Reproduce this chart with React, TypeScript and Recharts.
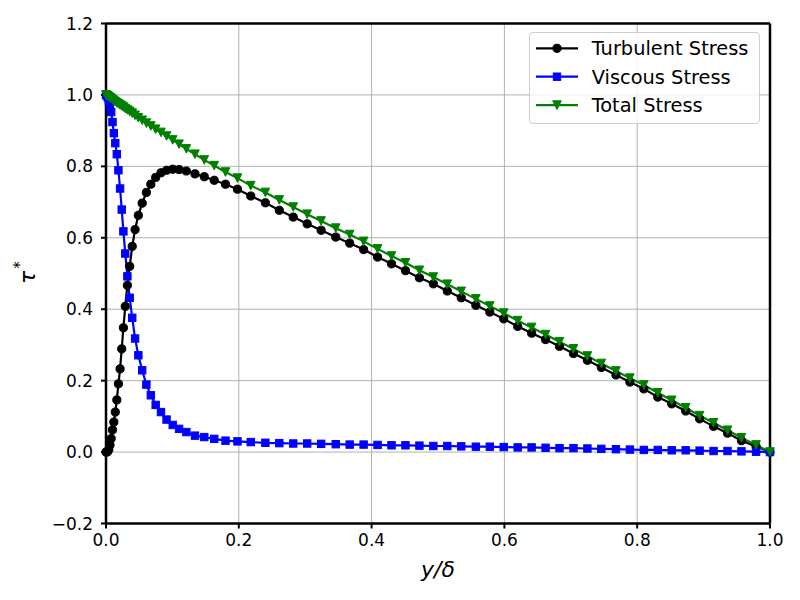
import React from 'react';
import {
  LineChart,
  Line,
  XAxis,
  YAxis,
  CartesianGrid,
  ReferenceLine,
  Legend,
  Label,
} from 'recharts';

// wall-normal positions y/delta (stretched grid, dense near the wall)
const yOverDelta = [
  0.0, 0.0013, 0.0027, 0.0042, 0.006, 0.0078, 0.0098, 0.0118, 0.014, 0.0163,
  0.0187, 0.0212, 0.0237, 0.0262, 0.029, 0.0322, 0.0357, 0.0395, 0.0438, 0.0487,
  0.0545, 0.0608, 0.0675, 0.0748, 0.0828, 0.0912, 0.1005, 0.11, 0.121, 0.134,
  0.148, 0.163, 0.18, 0.198, 0.218,
  0.24, 0.261, 0.282, 0.303, 0.324, 0.346, 0.367, 0.388, 0.409, 0.43,
  0.451, 0.472, 0.493, 0.514, 0.535, 0.557, 0.578, 0.599, 0.62, 0.641,
  0.662, 0.683, 0.704, 0.725, 0.746, 0.768, 0.789, 0.81, 0.831, 0.852,
  0.873, 0.894, 0.915, 0.936, 0.957, 0.979, 1.0,
];

const turbulentStress = [
  0.0, 0.0, 0.002, 0.007, 0.02, 0.038, 0.062, 0.084, 0.112, 0.146,
  0.191, 0.233, 0.289, 0.348, 0.408, 0.467, 0.52, 0.576, 0.623, 0.663,
  0.697, 0.727, 0.75, 0.769, 0.782, 0.789, 0.792, 0.791, 0.787, 0.779,
  0.771, 0.761, 0.75, 0.736, 0.717,
  0.698, 0.677, 0.658, 0.639, 0.621, 0.602, 0.585, 0.567, 0.546, 0.527,
  0.508, 0.488, 0.471, 0.451, 0.432, 0.411, 0.392, 0.373, 0.352, 0.333,
  0.315, 0.296, 0.276, 0.257, 0.237, 0.216, 0.196, 0.177, 0.154, 0.135,
  0.115, 0.093, 0.072, 0.053, 0.032, 0.016, 0.0,
];

const viscousStress = [
  1.0, 0.998, 0.993, 0.984, 0.971, 0.952, 0.924, 0.893, 0.865, 0.834,
  0.789, 0.738, 0.679, 0.618, 0.556, 0.492, 0.432, 0.376, 0.318, 0.271,
  0.229, 0.189, 0.159, 0.132, 0.112, 0.091, 0.076, 0.065, 0.056, 0.046,
  0.042, 0.037, 0.032, 0.03, 0.028,
  0.026, 0.025, 0.024, 0.024, 0.023, 0.022, 0.021, 0.021, 0.02, 0.019,
  0.019, 0.018, 0.017, 0.017, 0.016, 0.015, 0.015, 0.014, 0.013, 0.013,
  0.012, 0.011, 0.011, 0.01, 0.009, 0.008, 0.007, 0.006, 0.006, 0.005,
  0.005, 0.004, 0.003, 0.003, 0.002, 0.001, 0.0,
];

const totalStress = [
  1.0, 0.999, 0.997, 0.995, 0.992, 0.99, 0.987, 0.984, 0.981, 0.978,
  0.975, 0.972, 0.969, 0.966, 0.962, 0.958, 0.954, 0.949, 0.943, 0.936,
  0.929, 0.921, 0.913, 0.904, 0.895, 0.885, 0.874, 0.862, 0.849, 0.834,
  0.818, 0.802, 0.784, 0.767, 0.746,
  0.727, 0.706, 0.686, 0.666, 0.647, 0.627, 0.609, 0.59, 0.569, 0.549,
  0.53, 0.509, 0.49, 0.47, 0.45, 0.429, 0.409, 0.389, 0.368, 0.349,
  0.329, 0.309, 0.289, 0.269, 0.248, 0.227, 0.207, 0.188, 0.166, 0.145,
  0.124, 0.102, 0.082, 0.061, 0.04, 0.02, 0.0,
];

const xTicks = [0, 0.2, 0.4, 0.6, 0.8, 1.0];
const yTicks = [-0.2, 0, 0.2, 0.4, 0.6, 0.8, 1.0, 1.2];

const SERIES = [
  { key: 'turbulent', name: 'Turbulent Stress', color: '#000000', marker: 'circle' },
  { key: 'viscous', name: 'Viscous Stress', color: '#0000ff', marker: 'square' },
  { key: 'total', name: 'Total Stress', color: '#008000', marker: 'triangle' },
];

const FONT = '"DejaVu Sans", sans-serif';

function Marker({ cx, cy, type, color }: { cx?: number; cy?: number; type: string; color: string }) {
  if (cx == null || cy == null) return null;
  if (type === 'circle') {
    return <circle cx={cx} cy={cy} r={4.1} fill={color} stroke={color} strokeWidth={1} />;
  }
  if (type === 'square') {
    return <rect x={cx - 3.7} y={cy - 3.7} width={7.4} height={7.4} fill={color} stroke={color} strokeWidth={1} />;
  }
  return (
    <polygon
      points={`${cx - 4.3},${cy - 4.3} ${cx + 4.3},${cy - 4.3} ${cx},${cy + 4.3}`}
      fill={color}
      stroke={color}
      strokeWidth={1}
    />
  );
}

const fmt = (v: number) => (v < 0 ? '\u2212' + Math.abs(v).toFixed(1) : v.toFixed(1));

const XTick = (props: any) => {
  const { x, y, payload } = props;
  return (
    <text x={x} y={y + 15.5} textAnchor="middle" fontSize={17} fontFamily={FONT} fill="#000">
      {fmt(payload.value)}
    </text>
  );
};

const YTick = (props: any) => {
  const { x, y, payload } = props;
  return (
    <text x={x - 6} y={y + 6} textAnchor="end" fontSize={17} fontFamily={FONT} fill="#000">
      {fmt(payload.value)}
    </text>
  );
};

const renderLegend = () => (
  <div
    style={{
      width: 231,
      height: 92,
      boxSizing: 'border-box',
      border: '1px solid #cccccc',
      borderRadius: 4,
      background: 'rgba(255,255,255,0.8)',
    }}
  >
    <svg width={229} height={90} style={{ display: 'block' }}>
      {SERIES.map((s, i) => {
        const cy = 15.3 + i * 28.4;
        return (
          <g key={s.key}>
            <line x1={6} x2={48} y1={cy} y2={cy} stroke={s.color} strokeWidth={2.2} />
            <Marker cx={27} cy={cy} type={s.marker} color={s.color} />
            <text x={61.7} y={cy + 7} fontSize={19.4} fontFamily={FONT} fill="#000">
              {s.name}
            </text>
          </g>
        );
      })}
    </svg>
  </div>
);

export default function App() {
  const data = yOverDelta.map((x, i) => ({
    x,
    turbulent: turbulentStress[i],
    viscous: viscousStress[i],
    total: totalStress[i],
  }));

  return (
    <div style={{ position: 'absolute', left: 0, top: 0, width: 800, height: 600, background: '#ffffff' }}>
      <LineChart width={800} height={600} data={data} margin={{ top: 23.5, right: 30, bottom: 46.5, left: 0 }}>
        <CartesianGrid stroke="#b0b0b0" strokeWidth={1} />
        <XAxis
          type="number"
          dataKey="x"
          domain={[0, 1]}
          ticks={xTicks}
          interval={0}
          height={30}
          tickSize={5}
          tickLine={{ stroke: '#000', strokeWidth: 2 }}
          axisLine={{ stroke: '#000', strokeWidth: 2.5 }}
          tick={XTick}
        >
          <Label
            content={(p: any) => {
              const vb = p.viewBox || {};
              return (
                <text
                  x={vb.x + vb.width / 2}
                  y={vb.y + 53.5}
                  textAnchor="middle"
                  fontSize={22}
                  fontStyle="italic"
                  fontFamily={FONT}
                  fill="#000"
                >
                  y/δ
                </text>
              );
            }}
          />
        </XAxis>
        <YAxis
          type="number"
          domain={[-0.2, 1.2]}
          ticks={yTicks}
          interval={0}
          width={106}
          tickSize={5}
          tickLine={{ stroke: '#000', strokeWidth: 2 }}
          axisLine={{ stroke: '#000', strokeWidth: 2.5 }}
          tick={YTick}
          allowDataOverflow
        >
          <Label
            content={(p: any) => {
              const vb = p.viewBox || {};
              const cx = vb.x + 35;
              const cy = vb.y + vb.height / 2 - 1;
              return (
                <text
                  x={cx}
                  y={cy}
                  transform={`rotate(-90, ${cx}, ${cy})`}
                  textAnchor="middle"
                  fontSize={22}
                  fontStyle="italic"
                  fontFamily={FONT}
                  fill="#000"
                >
                  <tspan>τ</tspan>
                  <tspan dx={2} dy={-10} fontSize={15} fontStyle="normal">*</tspan>
                </text>
              );
            }}
          />
        </YAxis>
        <ReferenceLine y={1.2} stroke="#000" strokeWidth={2.5} />
        <ReferenceLine x={1} stroke="#000" strokeWidth={2.5} />
        {SERIES.map((s) => (
          <Line
            key={s.key}
            type="linear"
            dataKey={s.key}
            name={s.name}
            stroke={s.color}
            strokeWidth={2.2}
            isAnimationActive={false}
            activeDot={false}
            dot={(p: any) => (
              <Marker key={`${s.key}-${p.index}`} cx={p.cx} cy={p.cy} type={s.marker} color={s.color} />
            )}
          />
        ))}
        <Legend
          layout="horizontal"
          verticalAlign="middle"
          align="center"
          content={renderLegend}
          wrapperStyle={{ left: 529, top: 32, width: 231, height: 92 }}
        />
      </LineChart>
    </div>
  );
}
